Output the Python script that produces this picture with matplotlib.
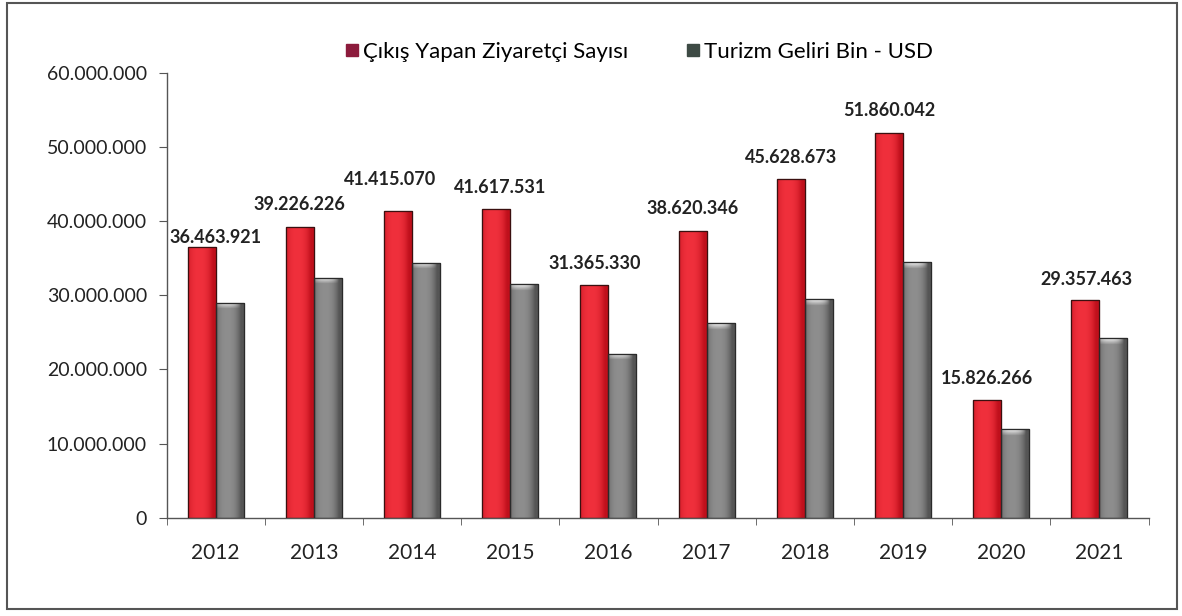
import matplotlib
matplotlib.use("Agg")
import matplotlib.pyplot as plt
import numpy as np
from matplotlib.patches import Rectangle
from matplotlib.lines import Line2D
from matplotlib.colors import to_rgb

# ---- data ----
years = ["2012", "2013", "2014", "2015", "2016", "2017", "2018", "2019", "2020", "2021"]
visitors = [36463921, 39226226, 41415070, 41617531, 31365330, 38620346, 45628673, 51860042, 15826266, 29357463]
revenue = [29000000, 32350000, 34400000, 31500000, 22100000, 26200000, 29450000, 34450000, 11900000, 24200000]
series_names = ["Çıkış Yapan Ziyaretçi Sayısı", "Turizm Geliri Bin - USD"]
yticks = [0, 10000000, 20000000, 30000000, 40000000, 50000000, 60000000]

# label nudges (points) for data labels
label_dx = [10, 0, -6, 3, 0, 0, 0, 0, 0, 1]
label_dy = [7, 16, 22, 15.5, 15.5, 16.5, 15.5, 16, 15.5, 15]

plt.rcParams['font.family'] = ['Lato', 'DejaVu Sans']

W, H = 1182, 616
fig = plt.figure(figsize=(W / 100, H / 100), dpi=100)
fig.patch.set_facecolor("white")

left, right, bottom, top = 166.5, 1148.5, 517.7, 72.7
ax = fig.add_axes([left / W, 1 - bottom / H, (right - left) / W, (bottom - top) / H])

x = np.arange(len(years))
bw = 0.285
red_bars = ax.bar(x - bw / 2, visitors, width=bw, color="#e8232f", edgecolor="#3a1010", linewidth=0.8, zorder=2)
gray_bars = ax.bar(x + bw / 2, revenue, width=bw, color="#7c7c7c", edgecolor="#2a2a2a", linewidth=0.8, zorder=2)

def shade(bars, c_edge, c_mid, highlight=False):
    ce = np.array(to_rgb(c_edge)); cm = np.array(to_rgb(c_mid))
    t = np.linspace(0, 1, 64)
    prof = 1 - np.abs(2 * t - 0.8) ** 2.5
    prof = np.clip(prof, 0, 1)
    row = ce[None, :] + (cm - ce)[None, :] * prof[:, None]
    for p in bars:
        x0, w, h = p.get_x(), p.get_width(), p.get_height()
        img = np.repeat(row[None, :, :], 2, axis=0)
        im = ax.imshow(img, extent=[x0, x0 + w, 0, h], aspect='auto', zorder=2.5, interpolation='bilinear')
        im.set_clip_path(p)
        if highlight:
            hh = 0.9e6
            hl = np.ones((8, 64, 4))
            hl[..., :3] = 1.0
            hl[..., 3] = np.linspace(0.0, 0.85, 8)[:, None] * prof[None, :]
            im2 = ax.imshow(hl, extent=[x0, x0 + w, h - hh, h], aspect='auto', zorder=2.6, interpolation='bilinear', origin='lower')
            im2.set_clip_path(p)
        r = Rectangle((x0, 0), w, h, fill=False, edgecolor=p.get_edgecolor(), linewidth=0.9, zorder=3)
        ax.add_patch(r)

shade(red_bars, "#c0101c", "#f0303c")
shade(gray_bars, "#555555", "#8e8e8e", highlight=True)

for i, v in enumerate(visitors):
    ax.annotate(f"{v:,}".replace(",", "."), xy=(x[i] - bw / 2, v), xytext=(label_dx[i], label_dy[i]),
                textcoords="offset points", ha="center", va="center", fontsize=13, fontweight="bold",
                color="#222222", zorder=5)

ax.set_xlim(-0.5, len(years) - 0.5)
ax.set_ylim(0, 60000000)
ax.set_yticks(yticks)
ax.set_yticklabels([f"{t:,}".replace(",", ".") for t in yticks], fontsize=14, color="#222222")
ax.set_xticks(x)
ax.set_xticklabels(years, fontsize=15, color="#222222")
ax.set_xticks(np.arange(len(years) + 1) - 0.5, minor=True)
ax.tick_params(axis="x", which="major", length=0, pad=18)
ax.tick_params(axis="x", which="minor", length=5, color="#555555", direction="out")
ax.tick_params(axis="y", which="major", length=6, color="#555555", pad=8)
for s in ["top", "right"]:
    ax.spines[s].set_visible(False)
for s in ["left", "bottom"]:
    ax.spines[s].set_color("#555555")
    ax.spines[s].set_linewidth(1.0)
ax.set_facecolor("none")

handles = [Line2D([0], [0], marker="s", linestyle="none", markersize=9, markerfacecolor="#8c1b3c", markeredgecolor="#8c1b3c"),
           Line2D([0], [0], marker="s", linestyle="none", markersize=9, markerfacecolor="#3d4a44", markeredgecolor="#3d4a44")]
fig.legend(handles, series_names, loc="center", bbox_to_anchor=(639 / W, 1 - 52 / H), ncol=2, frameon=False,
           fontsize=16, handlelength=0.6, handletextpad=0.2, columnspacing=2.6)

fig.add_artist(Rectangle((7 / W, 1 - 609 / H), 1170 / W, 606 / H, transform=fig.transFigure,
                         fill=False, edgecolor="#555555", linewidth=1.5))

fig.savefig("out.png", dpi=100)
